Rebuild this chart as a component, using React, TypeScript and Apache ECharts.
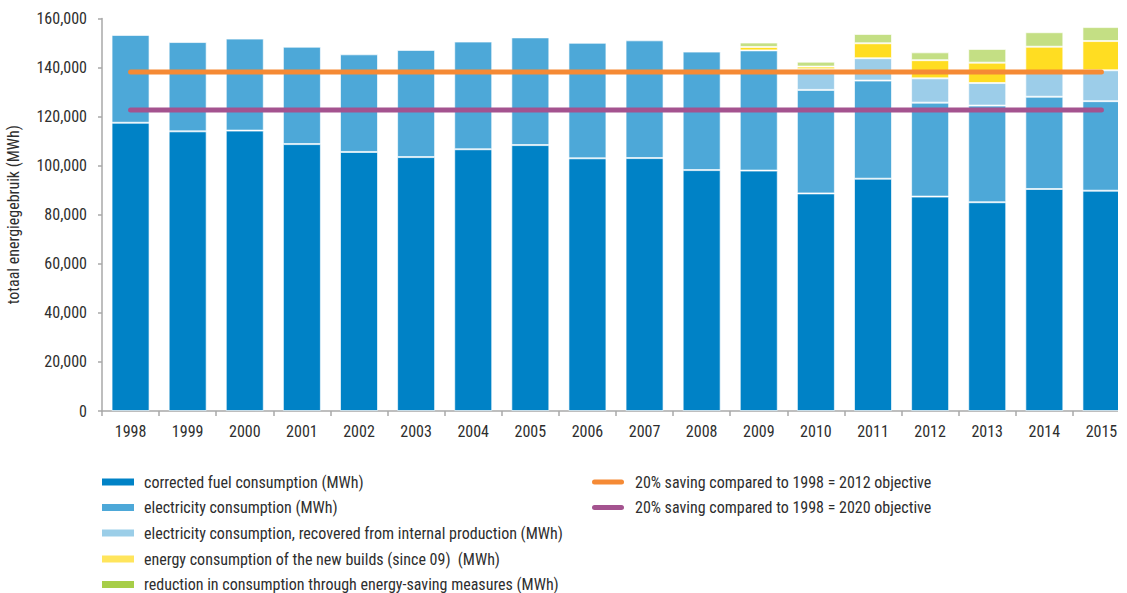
import React, { useEffect, useRef } from "react";
import * as echarts from "echarts";

const years = [
  "1998", "1999", "2000", "2001", "2002", "2003", "2004", "2005", "2006",
  "2007", "2008", "2009", "2010", "2011", "2012", "2013", "2014", "2015",
];

// MWh values
const fuel = [
  117500, 114000, 114300, 108800, 105600, 103500, 106700, 108400, 103000,
  103100, 98200, 98000, 88700, 94700, 87400, 85100, 90500, 89800,
];
const electricity = [
  35800, 36400, 37500, 39700, 39800, 43700, 43900, 43900, 47100,
  48000, 48300, 49000, 42200, 40000, 38300, 39400, 37600, 36500,
];
const electricityRecovered = [
  null, null, null, null, null, null, null, null, null,
  null, null, null, 8400, 9100, 9900, 9200, 10500, 12600,
];
const newBuilds = [
  null, null, null, null, null, null, null, null, null,
  null, null, 1400, 1100, 6100, 7400, 8300, 9900, 11900,
];
const savings = [
  null, null, null, null, null, null, null, null, null,
  null, null, 1800, 2000, 3800, 3200, 5600, 5900, 5700,
];
const objective2012 = [
  138200, 138200, 138200, 138200, 138200, 138200, 138200, 138200, 138200,
  138200, 138200, 138200, 138200, 138200, 138200, 138200, 138200, 138200,
];
const objective2020 = [
  122700, 122700, 122700, 122700, 122700, 122700, 122700, 122700, 122700,
  122700, 122700, 122700, 122700, 122700, 122700, 122700, 122700, 122700,
];

const names = {
  fuel: "corrected fuel consumption (MWh)",
  elec: "electricity consumption (MWh)",
  rec: "electricity consumption, recovered from internal production (MWh)",
  nb: "energy consumption of the new builds (since 09)  (MWh)",
  sav: "reduction in consumption through energy-saving measures (MWh)",
  o12: "20% saving compared to 1998 = 2012 objective",
  o20: "20% saving compared to 1998 = 2020 objective",
};

const FONT = "'Liberation Sans Narrow', 'Roboto Condensed', 'Liberation Sans', sans-serif";
const TEXT = "#2e2e2e";
const AXIS = "#a8a8a8";

const pill = "path://M2.5,0L29.5,0A2.5,2.5,0,0,1,29.5,5L2.5,5A2.5,2.5,0,0,1,2.5,0Z";

export default function App() {
  const ref = useRef<HTMLDivElement>(null);

  useEffect(() => {
    if (!ref.current) return;
    const chart = echarts.init(ref.current, null, { renderer: "svg" });
    const barStyle = (color: string) => ({
      color,
      borderColor: "rgba(255,255,255,0.65)",
      borderWidth: 1,
    });
    const bar = (name: string, data: (number | null)[], color: string) => ({
      name,
      type: "bar",
      stack: "total",
      barWidth: 38,
      data,
      itemStyle: barStyle(color),
      emphasis: { disabled: true },
    });
    const legendText = { fontFamily: FONT, fontSize: 16, color: TEXT, lineHeight: 16 };
    const rectLegend = (top: number, data: any[]) => ({
      orient: "vertical",
      left: 102,
      top,
      padding: 0,
      itemWidth: 32,
      itemHeight: 7,
      itemGap: 9.5,
      icon: "rect",
      selectedMode: false,
      textStyle: { ...legendText, padding: [0, 0, 0, 5] },
      data,
    });
    chart.setOption({
      animation: false,
      backgroundColor: "#ffffff",
      grid: {
        left: 102,
        top: 18.5,
        bottom: 182,
        right: -12,
        containLabel: false,
        outerBoundsMode: "none",
      },
      legend: [
        rectLegend(474, [
          { name: names.fuel, itemStyle: { color: "#0082c6", borderWidth: 0 } },
          { name: names.elec, itemStyle: { color: "#4da8d8", borderWidth: 0 } },
          { name: names.rec, itemStyle: { color: "#9bcee8", borderWidth: 0 } },
        ]),
        rectLegend(551, [
          { name: names.nb, itemStyle: { color: "#ffe55c", borderWidth: 0 } },
          { name: names.sav, itemStyle: { color: "#a7ce48", borderWidth: 0 } },
        ]),
        {
          orient: "vertical",
          left: 592,
          top: 474,
          padding: 0,
          itemWidth: 32,
          itemHeight: 5,
          itemGap: 9.5,
          selectedMode: false,
          textStyle: { ...legendText, padding: [0, 0, 0, 6] },
          data: [
            { name: names.o12, icon: pill, itemStyle: { color: "#f58a35", borderWidth: 0 } },
            { name: names.o20, icon: pill, itemStyle: { color: "#a4538f", borderWidth: 0 } },
          ],
        },
      ],
      xAxis: {
        type: "category",
        data: years,
        axisLine: { lineStyle: { color: AXIS, width: 1.5 } },
        axisTick: { show: true, length: 5, lineStyle: { color: AXIS, width: 1.5 } },
        axisLabel: { fontFamily: FONT, fontSize: 16, color: TEXT, margin: 12 },
      },
      yAxis: {
        type: "value",
        min: 0,
        max: 160000,
        interval: 20000,
        axisLine: { show: true, lineStyle: { color: AXIS, width: 1.5 } },
        axisTick: { show: true, length: 4, lineStyle: { color: AXIS, width: 1.5 } },
        splitLine: { show: false },
        axisLabel: {
          fontFamily: FONT,
          fontSize: 16,
          color: TEXT,
          margin: 15,
          formatter: (v: number) => v.toLocaleString("en-US"),
        },
        name: "totaal energiegebruik (MWh)",
        nameLocation: "middle",
        nameGap: 81,
        nameTextStyle: { fontFamily: FONT, fontSize: 16, color: TEXT },
      },
      series: [
        bar(names.fuel, fuel, "#0082c6"),
        bar(names.elec, electricity, "#4da8d8"),
        bar(names.rec, electricityRecovered, "#9ccde9"),
        bar(names.nb, newBuilds, "#ffdd22"),
        bar(names.sav, savings, "#c4df84"),
        {
          name: names.o12,
          type: "line",
          data: objective2012,
          symbol: "none",
          z: 5,
          color: "#f58a35",
          lineStyle: { color: "#f58a35", width: 5, cap: "round" },
          emphasis: { disabled: true },
        },
        {
          name: names.o20,
          type: "line",
          data: objective2020,
          symbol: "none",
          z: 5,
          color: "#a4538f",
          lineStyle: { color: "#a4538f", width: 5, cap: "round" },
          emphasis: { disabled: true },
        },
      ],
    });
    return () => chart.dispose();
  }, []);

  return (
    <div
      ref={ref}
      style={{
        position: "absolute",
        left: 0,
        top: 0,
        width: 1118,
        height: 593,
        overflow: "hidden",
        background: "#ffffff",
      }}
    />
  );
}
